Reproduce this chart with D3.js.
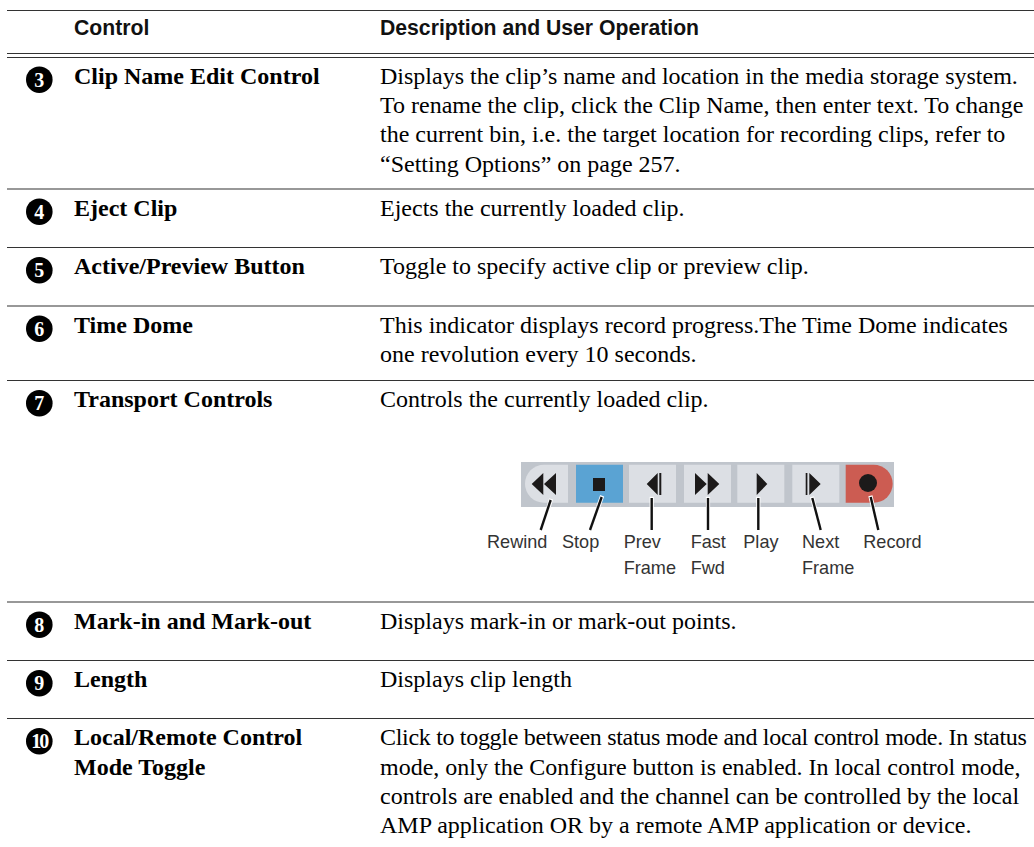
<!DOCTYPE html>
<html>
<head>
<meta charset="utf-8">
<style>
  html, body { margin: 0; background: #fff; }
  .head { font: bold 21.2px "Liberation Sans"; fill: #111; }
  .name { font: bold 24px "Liberation Serif"; fill: #000; }
  .desc { font: 24px "Liberation Serif"; fill: #000; }
  .num  { font: bold 20px "Liberation Serif"; fill: #fff; text-anchor: middle; }
  .tool { font: 18.1px "Liberation Sans"; fill: #333; }
</style>
<script src="https://cdn.jsdelivr.net/npm/d3@7"></script>
</head>
<body>
<script>
var headers = ["Control", "Description and User Operation"];
var numbers = ["3", "4", "5", "6", "7", "8", "9", "10"];
var names = [
  ["Clip Name Edit Control"],
  ["Eject Clip"],
  ["Active/Preview Button"],
  ["Time Dome"],
  ["Transport Controls"],
  ["Mark-in and Mark-out"],
  ["Length"],
  ["Local/Remote Control", "Mode Toggle"]
];
var descriptions = [
  ["Displays the clip\u2019s name and location in the media storage system.",
   "To rename the clip, click the Clip Name, then enter text. To change",
   "the current bin, i.e. the target location for recording clips, refer to",
   "\u201cSetting Options\u201d on page 257."],
  ["Ejects the currently loaded clip."],
  ["Toggle to specify active clip or preview clip."],
  ["This indicator displays record progress.The Time Dome indicates",
   "one revolution every 10 seconds."],
  ["Controls the currently loaded clip."],
  ["Displays mark-in or mark-out points."],
  ["Displays clip length"],
  ["Click to toggle between status mode and local control mode. In status",
   "mode, only the Configure button is enabled. In local control mode,",
   "controls are enabled and the channel can be controlled by the local",
   "AMP application OR by a remote AMP application or device."]
];
var buttons = ["Rewind", "Stop", "Prev", "Fast", "Play", "Next", "Record"];
var buttonLabels = [["Rewind"], ["Stop"], ["Prev", "Frame"], ["Fast", "Fwd"], ["Play"], ["Next", "Frame"], ["Record"]];

var width = 1034, height = 847;
var svg = d3.select("body").append("svg").attr("width", width).attr("height", height).style("display", "block");

// row tops, one per control
var rowY = d3.scaleOrdinal().domain(numbers).range([57, 189, 247.5, 306, 380.5, 602, 660.5, 718.5]);
var lineH = 29.3;

svg.selectAll("line.rule")
  .data([10.5, 53.5, 57.5, 189, 247.5, 306, 380.5, 602, 660.5, 718.5])
  .enter().append("line")
  .attr("x1", 7).attr("x2", 1034)
  .attr("y1", function(d) { return d; }).attr("y2", function(d) { return d; })
  .attr("stroke", "#333").attr("stroke-width", 1.2);

svg.selectAll("text.head").data(headers).enter().append("text")
  .attr("class", "head")
  .attr("x", function(d, i) { return i ? 380 : 74; })
  .attr("y", 35)
  .text(function(d) { return d; });

var row = svg.selectAll("g.row").data(numbers).enter().append("g")
  .attr("transform", function(d) { return "translate(0," + rowY(d) + ")"; });

row.append("circle").attr("cx", 39.3).attr("cy", 22.7).attr("r", 13.3).attr("fill", "#000");
row.append("text").attr("class", "num").attr("x", 39.3).attr("y", 29.5)
  .style("letter-spacing", function(d) { return d.length > 1 ? "-2px" : null; })
  .text(function(d) { return d; });

row.each(function(d, i) {
  var g = d3.select(this);
  g.selectAll("text.name").data(names[i]).enter().append("text")
    .attr("class", "name").attr("x", 74)
    .attr("y", function(t, j) { return 26.7 + j * lineH; })
    .text(function(t) { return t; });
  g.selectAll("text.desc").data(descriptions[i]).enter().append("text")
    .attr("class", "desc").attr("x", 380)
    .attr("y", function(t, j) { return 26.7 + j * lineH; })
    .style("letter-spacing", function(t) { return t.indexOf("Click") == 0 ? "-0.31px" : null; })
    .text(function(t) { return t; });
});

// transport toolbar
var bx = d3.scaleOrdinal().domain(buttons).range([525, 576, 629, 684, 737.3, 792.3, 845.7]);
var tool = svg.append("g");
tool.append("rect").attr("x", 521).attr("y", 462).attr("width", 373).attr("height", 45).attr("fill", "#c0c5cc");

tool.selectAll("path.btn").data(buttons).enter().append("path")
  .attr("fill", function(d) { return d == "Stop" ? "#5aa3d3" : d == "Record" ? "#cc5c52" : "#dcdfe4"; })
  .attr("d", function(d) {
    var x = bx(d), y = 464.7, w = 47, h = 38;
    if (d == "Rewind") return "M" + (x + 43) + "," + y + "v" + h + "h-24a19,19 0 0 1 0,-" + h + "z";
    if (d == "Record") return "M" + x + "," + y + "h28a19,19 0 0 1 0," + h + "h-28z";
    return "M" + x + "," + y + "h" + w + "v" + h + "h-" + w + "z";
  });

var labels = svg.selectAll("g.lab").data(buttons).enter().append("g");
labels.each(function(d, i) {
  d3.select(this).selectAll("text").data(buttonLabels[i]).enter().append("text")
    .attr("class", "tool")
    .attr("x", [487, 562, 623.7, 690.7, 743.3, 802, 863.3][i])
    .attr("y", function(t, j) { return 547.5 + j * 26; })
    .text(function(t) { return t; });
});

var leaders = [[550.7, 500, 540.7, 530], [601.7, 497, 590, 530], [651.7, 498, 651.7, 530], [708, 498, 708, 530], [758.3, 498, 758.3, 530], [812.3, 498, 820.7, 530], [870.7, 497, 878.3, 530]];

// thin white halo where the leader meets its button
svg.selectAll("line.halo").data(leaders).enter().append("line")
  .attr("x1", function(d) { return d[0] + (d[0] - d[2]) * 0.04; }).attr("y1", function(d) { return d[1] - 1.2; })
  .attr("x2", function(d) { return d[0] + (d[2] - d[0]) * 0.3; }).attr("y2", function(d) { return d[1] + 10; })
  .attr("stroke", "#fff").attr("stroke-width", 4.2);

svg.selectAll("line.leader").data(leaders).enter().append("line")
  .attr("x1", function(d) { return d[0]; }).attr("y1", function(d) { return d[1]; })
  .attr("x2", function(d) { return d[2]; }).attr("y2", function(d) { return d[3]; })
  .attr("stroke", "#111").attr("stroke-width", 2.4);

var glyphs = [
  "M531.7,484l11.6,-11v22z M544,484l12,-11v22z",
  "M593,478h12v13h-12z",
  "M646.7,484l11,-11v22z M659.3,473h2v22h-2z",
  "M695,473l11.7,11l-11.7,11z M707.7,473l11.6,11l-11.6,11z",
  "M756.7,473l10.6,11l-10.6,11z",
  "M805.7,473h1.7v22h-1.7z M809.3,473l11.4,11l-11.4,11z",
  "M859,483a9,9 0 1 0 18,0a9,9 0 1 0 -18,0z"
];
svg.selectAll("path.glyph").data(glyphs).enter().append("path")
  .attr("d", function(d) { return d; }).attr("fill", "#1c1a1a");
</script>
</body>
</html>
